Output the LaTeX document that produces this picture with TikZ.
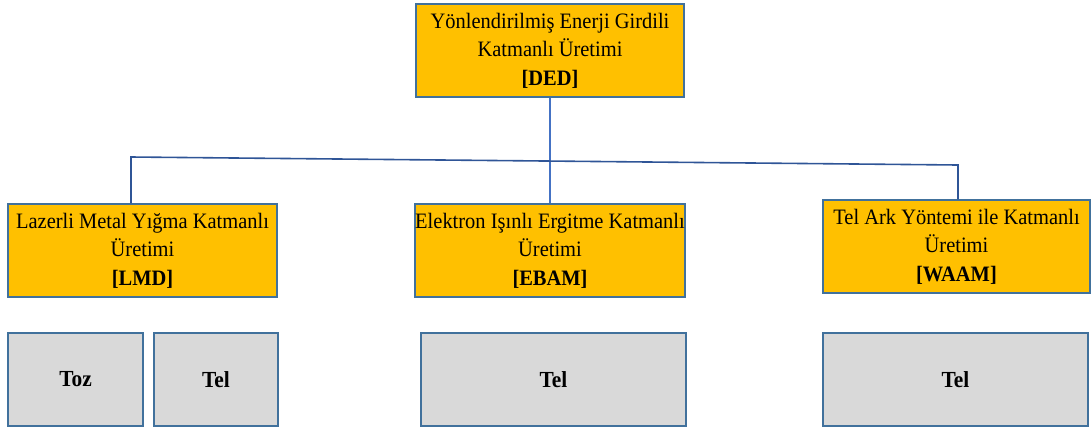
\documentclass[tikz,border=0pt]{standalone}
\usepackage{fontspec}
\setmainfont{Liberation Serif}[FakeStretch=0.93]
\definecolor{orangefill}{HTML}{FFC000}
\definecolor{grayfill}{HTML}{D9D9D9}
\definecolor{boxline}{HTML}{41719C}
\definecolor{linkA}{HTML}{4472C4}
\definecolor{linkB}{HTML}{2F5597}
\tikzset{
  mainbox/.style={draw=boxline, line width=1.5pt, fill=orangefill, inner sep=0pt, align=center,
    font=\fontsize{22}{28.5}\selectfont},
  leafbox/.style={draw=boxline, line width=1.5pt, fill=grayfill, inner sep=0pt, align=center,
    font=\fontsize{23}{28}\selectfont\bfseries},
  link/.style={line width=1.6pt}
}
\begin{document}
\begin{tikzpicture}[x=1pt,y=-1pt]
\useasboundingbox (0,0) rectangle (1091,429);
\node[mainbox, minimum width=268pt, minimum height=93pt] (ded) at (550,50.5)
  {Yönlendirilmiş Enerji Girdili\\Katmanlı Üretimi\\\textbf{[DED]}};
\node[mainbox, minimum width=269pt, minimum height=93pt] (lmd) at (142.5,250.5)
  {Lazerli Metal Yığma Katmanlı\\Üretimi\\\textbf{[LMD]}};
\node[mainbox, minimum width=268pt, minimum height=93pt] (ebam) at (550,250.5)
  {Elektron Işınlı Ergitme Katmanlı\\Üretimi\\\textbf{[EBAM]}};
\node[mainbox, minimum width=267pt, minimum height=93pt] (waam) at (956.5,246.5)
  {Tel Ark Yöntemi ile Katmanlı\\Üretimi\\\textbf{[WAAM]}};
\node[leafbox, minimum width=135pt, minimum height=93pt] (toz) at (75.5,379.5) {Toz};
\node[leafbox, minimum width=124pt, minimum height=93pt] (tel1) at (216,379.5) {Tel};
\node[leafbox, minimum width=265pt, minimum height=93pt] (tel2) at (553.5,379.5) {Tel};
\node[leafbox, minimum width=265pt, minimum height=93pt] (tel3) at (955.5,379.5) {Tel};
\coordinate (j1) at (131,157);
\coordinate (j2) at (958,165);
\draw[link, draw=linkA] (ded.south) -- (ebam.north);
\draw[link, draw=linkB] (lmd.north -| j1) -- (j1) -- (j2) -- (waam.north -| j2);
\end{tikzpicture}
\end{document}
